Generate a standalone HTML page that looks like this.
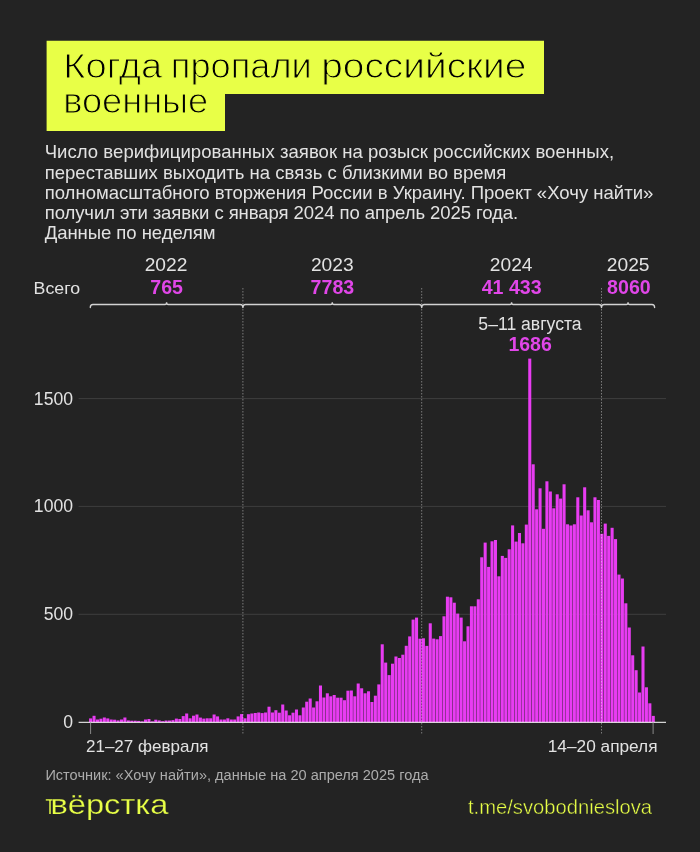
<!DOCTYPE html>
<html><head><meta charset="utf-8"><style>
html,body{margin:0;padding:0;background:#232323;}
body{width:700px;height:852px;overflow:hidden;position:relative;}
svg{position:absolute;left:0;top:0;display:block;will-change:transform;}
text{font-family:"Liberation Sans",Arial,sans-serif;}
</style></head><body>
<svg width="700" height="852" viewBox="0 0 700 852">
<rect x="0" y="0" width="700" height="852" fill="#232323"/>
<!-- title box -->
<path d="M46.6,40.8 H544 V94 H225 V131.1 H46.6 Z" fill="#e8ff47"/>
<g fill="#000" font-size="34.5" stroke="#e8ff47" stroke-width="1.0">
<text x="63.3" y="78" textLength="99" lengthAdjust="spacingAndGlyphs">Когда</text>
<text x="170.8" y="78" textLength="141" lengthAdjust="spacingAndGlyphs">пропали</text>
<text x="321.2" y="78" textLength="205.2" lengthAdjust="spacingAndGlyphs">российские</text>
<text x="63.2" y="113.4" textLength="145" lengthAdjust="spacingAndGlyphs">военные</text>
</g>
<!-- subtitle -->
<g fill="#e2e2e2" font-size="18.55">
<text x="44.7" y="158.2" textLength="569.4">Число верифицированных заявок на розыск российских военных,</text>
<text x="44.7" y="178.6">переставших выходить на связь с близкими во время</text>
<text x="44.7" y="199.0">полномасштабного вторжения России в Украину. Проект «Хочу найти»</text>
<text x="44.7" y="219.3" textLength="473.5">получил эти заявки с января 2024 по апрель 2025 года.</text>
<text x="44.7" y="239.4" textLength="170.8">Данные по неделям</text>
</g>
<!-- grid -->
<g stroke="#3e3e3e" stroke-width="1">
<line x1="78.6" x2="666" y1="398.6" y2="398.6"/>
<line x1="78.6" x2="666" y1="506.4" y2="506.4"/>
<line x1="78.6" x2="666" y1="614.3" y2="614.3"/>
</g>
<g fill="#e2e2e2" font-size="17.6" text-anchor="end">
<text x="73" y="404.6">1500</text>
<text x="73" y="512.4">1000</text>
<text x="73" y="620.3">500</text>
<text x="73" y="728.1">0</text>
</g>
<!-- bars -->
<g fill="#e83cf2">
<rect x="89.07" y="718.40" width="3.05" height="3.90"/>
<rect x="92.51" y="715.80" width="3.05" height="6.50"/>
<rect x="95.94" y="719.50" width="3.05" height="2.80"/>
<rect x="99.37" y="718.70" width="3.05" height="3.60"/>
<rect x="102.80" y="717.50" width="3.05" height="4.80"/>
<rect x="106.23" y="718.40" width="3.05" height="3.90"/>
<rect x="109.66" y="719.50" width="3.05" height="2.80"/>
<rect x="113.09" y="719.70" width="3.05" height="2.60"/>
<rect x="116.52" y="720.40" width="3.05" height="1.90"/>
<rect x="119.95" y="719.50" width="3.05" height="2.80"/>
<rect x="123.38" y="717.50" width="3.05" height="4.80"/>
<rect x="126.82" y="720.40" width="3.05" height="1.90"/>
<rect x="130.25" y="720.70" width="3.05" height="1.60"/>
<rect x="133.68" y="720.70" width="3.05" height="1.60"/>
<rect x="137.11" y="720.90" width="3.05" height="1.40"/>
<rect x="140.54" y="721.40" width="3.05" height="0.90"/>
<rect x="143.97" y="719.50" width="3.05" height="2.80"/>
<rect x="147.40" y="719.00" width="3.05" height="3.30"/>
<rect x="150.83" y="721.40" width="3.05" height="0.90"/>
<rect x="154.26" y="719.70" width="3.05" height="2.60"/>
<rect x="157.69" y="720.40" width="3.05" height="1.90"/>
<rect x="161.13" y="721.20" width="3.05" height="1.10"/>
<rect x="164.56" y="720.50" width="3.05" height="1.80"/>
<rect x="167.99" y="720.50" width="3.05" height="1.80"/>
<rect x="171.42" y="720.10" width="3.05" height="2.20"/>
<rect x="174.85" y="718.60" width="3.05" height="3.70"/>
<rect x="178.28" y="719.00" width="3.05" height="3.30"/>
<rect x="181.71" y="716.10" width="3.05" height="6.20"/>
<rect x="185.14" y="713.50" width="3.05" height="8.80"/>
<rect x="188.57" y="718.30" width="3.05" height="4.00"/>
<rect x="192.00" y="715.70" width="3.05" height="6.60"/>
<rect x="195.44" y="714.50" width="3.05" height="7.80"/>
<rect x="198.87" y="717.60" width="3.05" height="4.70"/>
<rect x="202.30" y="718.60" width="3.05" height="3.70"/>
<rect x="205.73" y="718.30" width="3.05" height="4.00"/>
<rect x="209.16" y="718.30" width="3.05" height="4.00"/>
<rect x="212.59" y="714.50" width="3.05" height="7.80"/>
<rect x="216.02" y="716.40" width="3.05" height="5.90"/>
<rect x="219.45" y="719.50" width="3.05" height="2.80"/>
<rect x="222.88" y="719.50" width="3.05" height="2.80"/>
<rect x="226.31" y="718.30" width="3.05" height="4.00"/>
<rect x="229.75" y="719.50" width="3.05" height="2.80"/>
<rect x="233.18" y="719.50" width="3.05" height="2.80"/>
<rect x="236.61" y="716.40" width="3.05" height="5.90"/>
<rect x="240.04" y="714.10" width="3.05" height="8.20"/>
<rect x="243.47" y="718.30" width="3.05" height="4.00"/>
<rect x="246.90" y="714.20" width="3.05" height="8.10"/>
<rect x="250.33" y="713.50" width="3.05" height="8.80"/>
<rect x="253.76" y="713.00" width="3.05" height="9.30"/>
<rect x="257.19" y="712.50" width="3.05" height="9.80"/>
<rect x="260.62" y="713.10" width="3.05" height="9.20"/>
<rect x="264.06" y="712.50" width="3.05" height="9.80"/>
<rect x="267.49" y="706.70" width="3.05" height="15.60"/>
<rect x="270.92" y="712.50" width="3.05" height="9.80"/>
<rect x="274.35" y="710.20" width="3.05" height="12.10"/>
<rect x="277.78" y="712.70" width="3.05" height="9.60"/>
<rect x="281.21" y="704.50" width="3.05" height="17.80"/>
<rect x="284.64" y="710.50" width="3.05" height="11.80"/>
<rect x="288.07" y="715.30" width="3.05" height="7.00"/>
<rect x="291.50" y="712.70" width="3.05" height="9.60"/>
<rect x="294.94" y="709.50" width="3.05" height="12.80"/>
<rect x="298.37" y="715.30" width="3.05" height="7.00"/>
<rect x="301.80" y="707.50" width="3.05" height="14.80"/>
<rect x="305.23" y="701.70" width="3.05" height="20.60"/>
<rect x="308.66" y="698.50" width="3.05" height="23.80"/>
<rect x="312.09" y="707.50" width="3.05" height="14.80"/>
<rect x="315.52" y="701.30" width="3.05" height="21.00"/>
<rect x="318.95" y="685.50" width="3.05" height="36.80"/>
<rect x="322.38" y="697.50" width="3.05" height="24.80"/>
<rect x="325.81" y="693.30" width="3.05" height="29.00"/>
<rect x="329.25" y="696.30" width="3.05" height="26.00"/>
<rect x="332.68" y="695.00" width="3.05" height="27.30"/>
<rect x="336.11" y="697.70" width="3.05" height="24.60"/>
<rect x="339.54" y="697.70" width="3.05" height="24.60"/>
<rect x="342.97" y="700.20" width="3.05" height="22.10"/>
<rect x="346.40" y="690.70" width="3.05" height="31.60"/>
<rect x="349.83" y="690.50" width="3.05" height="31.80"/>
<rect x="353.26" y="696.30" width="3.05" height="26.00"/>
<rect x="356.69" y="683.50" width="3.05" height="38.80"/>
<rect x="360.12" y="688.30" width="3.05" height="34.00"/>
<rect x="363.56" y="693.30" width="3.05" height="29.00"/>
<rect x="366.99" y="691.30" width="3.05" height="31.00"/>
<rect x="370.42" y="702.00" width="3.05" height="20.30"/>
<rect x="373.85" y="695.70" width="3.05" height="26.60"/>
<rect x="377.28" y="684.40" width="3.05" height="37.90"/>
<rect x="380.71" y="644.30" width="3.05" height="78.00"/>
<rect x="384.14" y="662.60" width="3.05" height="59.70"/>
<rect x="387.57" y="675.10" width="3.05" height="47.20"/>
<rect x="391.00" y="663.70" width="3.05" height="58.60"/>
<rect x="394.43" y="656.50" width="3.05" height="65.80"/>
<rect x="397.87" y="658.00" width="3.05" height="64.30"/>
<rect x="401.30" y="654.70" width="3.05" height="67.60"/>
<rect x="404.73" y="645.80" width="3.05" height="76.50"/>
<rect x="408.16" y="636.40" width="3.05" height="85.90"/>
<rect x="411.59" y="619.60" width="3.05" height="102.70"/>
<rect x="415.02" y="617.60" width="3.05" height="104.70"/>
<rect x="418.45" y="638.70" width="3.05" height="83.60"/>
<rect x="421.88" y="638.30" width="3.05" height="84.00"/>
<rect x="425.31" y="645.90" width="3.05" height="76.40"/>
<rect x="428.74" y="623.30" width="3.05" height="99.00"/>
<rect x="432.18" y="638.60" width="3.05" height="83.70"/>
<rect x="435.61" y="639.30" width="3.05" height="83.00"/>
<rect x="439.04" y="636.10" width="3.05" height="86.20"/>
<rect x="442.47" y="616.30" width="3.05" height="106.00"/>
<rect x="445.90" y="596.70" width="3.05" height="125.60"/>
<rect x="449.33" y="597.30" width="3.05" height="125.00"/>
<rect x="452.76" y="602.70" width="3.05" height="119.60"/>
<rect x="456.19" y="613.60" width="3.05" height="108.70"/>
<rect x="459.62" y="617.60" width="3.05" height="104.70"/>
<rect x="463.05" y="641.30" width="3.05" height="81.00"/>
<rect x="466.49" y="626.30" width="3.05" height="96.00"/>
<rect x="469.92" y="606.30" width="3.05" height="116.00"/>
<rect x="473.35" y="606.30" width="3.05" height="116.00"/>
<rect x="476.78" y="599.30" width="3.05" height="123.00"/>
<rect x="480.21" y="557.30" width="3.05" height="165.00"/>
<rect x="483.64" y="542.60" width="3.05" height="179.70"/>
<rect x="487.07" y="566.90" width="3.05" height="155.40"/>
<rect x="490.50" y="541.30" width="3.05" height="181.00"/>
<rect x="493.93" y="540.00" width="3.05" height="182.30"/>
<rect x="497.36" y="576.30" width="3.05" height="146.00"/>
<rect x="500.80" y="555.90" width="3.05" height="166.40"/>
<rect x="504.23" y="557.90" width="3.05" height="164.40"/>
<rect x="507.66" y="549.30" width="3.05" height="173.00"/>
<rect x="511.09" y="525.40" width="3.05" height="196.90"/>
<rect x="514.52" y="541.60" width="3.05" height="180.70"/>
<rect x="517.95" y="533.00" width="3.05" height="189.30"/>
<rect x="521.38" y="543.30" width="3.05" height="179.00"/>
<rect x="524.81" y="524.60" width="3.05" height="197.70"/>
<rect x="528.24" y="358.60" width="3.05" height="363.70"/>
<rect x="531.67" y="464.30" width="3.05" height="258.00"/>
<rect x="535.11" y="509.30" width="3.05" height="213.00"/>
<rect x="538.54" y="488.30" width="3.05" height="234.00"/>
<rect x="541.97" y="528.80" width="3.05" height="193.50"/>
<rect x="545.40" y="481.30" width="3.05" height="241.00"/>
<rect x="548.83" y="491.50" width="3.05" height="230.80"/>
<rect x="552.26" y="508.30" width="3.05" height="214.00"/>
<rect x="555.69" y="494.30" width="3.05" height="228.00"/>
<rect x="559.12" y="498.60" width="3.05" height="223.70"/>
<rect x="562.55" y="484.30" width="3.05" height="238.00"/>
<rect x="565.98" y="524.30" width="3.05" height="198.00"/>
<rect x="569.42" y="525.50" width="3.05" height="196.80"/>
<rect x="572.85" y="524.30" width="3.05" height="198.00"/>
<rect x="576.28" y="497.30" width="3.05" height="225.00"/>
<rect x="579.71" y="515.50" width="3.05" height="206.80"/>
<rect x="583.14" y="487.30" width="3.05" height="235.00"/>
<rect x="586.57" y="510.30" width="3.05" height="212.00"/>
<rect x="590.00" y="522.30" width="3.05" height="200.00"/>
<rect x="593.43" y="497.30" width="3.05" height="225.00"/>
<rect x="596.86" y="500.00" width="3.05" height="222.30"/>
<rect x="600.29" y="533.80" width="3.05" height="188.50"/>
<rect x="603.73" y="523.60" width="3.05" height="198.70"/>
<rect x="607.16" y="535.90" width="3.05" height="186.40"/>
<rect x="610.59" y="527.80" width="3.05" height="194.50"/>
<rect x="614.02" y="539.10" width="3.05" height="183.20"/>
<rect x="617.45" y="574.60" width="3.05" height="147.70"/>
<rect x="620.88" y="578.50" width="3.05" height="143.80"/>
<rect x="624.31" y="603.30" width="3.05" height="119.00"/>
<rect x="627.74" y="627.50" width="3.05" height="94.80"/>
<rect x="631.17" y="655.30" width="3.05" height="67.00"/>
<rect x="634.60" y="670.20" width="3.05" height="52.10"/>
<rect x="638.04" y="692.50" width="3.05" height="29.80"/>
<rect x="641.47" y="646.50" width="3.05" height="75.80"/>
<rect x="644.90" y="687.30" width="3.05" height="35.00"/>
<rect x="648.33" y="703.30" width="3.05" height="19.00"/>
<rect x="651.76" y="715.90" width="3.05" height="6.40"/>
</g>
<!-- dotted year dividers -->
<g stroke="#fff" stroke-opacity="0.4" stroke-width="1" stroke-dasharray="1.5 1.5">
<line x1="242.9" x2="242.9" y1="288" y2="734"/>
<line x1="421.7" x2="421.7" y1="288" y2="734"/>
<line x1="601.5" x2="601.5" y1="288" y2="734"/>
</g>
<!-- zero line & ticks -->
<line x1="78.6" x2="666" y1="722.4" y2="722.4" stroke="#fff" stroke-opacity="0.8" stroke-width="1.3"/>
<g stroke="#888" stroke-width="1">
<line x1="90.6" x2="90.6" y1="722.4" y2="734"/>
<line x1="653.1" x2="653.1" y1="722.4" y2="734"/>
</g>
<!-- braces -->
<path d="M90.30,307.50 Q90.30,304.50 92.90,304.50 L165.00,304.50 Q166.60,304.50 166.60,302.30 Q166.60,304.50 168.20,304.50 L240.30,304.50 Q242.90,304.50 242.90,307.50 M242.90,307.50 Q242.90,304.50 245.50,304.50 L330.70,304.50 Q332.30,304.50 332.30,302.30 Q332.30,304.50 333.90,304.50 L419.10,304.50 Q421.70,304.50 421.70,307.50 M421.70,307.50 Q421.70,304.50 424.30,304.50 L510.00,304.50 Q511.60,304.50 511.60,302.30 Q511.60,304.50 513.20,304.50 L598.90,304.50 Q601.50,304.50 601.50,307.50 M601.50,307.50 Q601.50,304.50 604.10,304.50 L626.45,304.50 Q628.05,304.50 628.05,302.30 Q628.05,304.50 629.65,304.50 L652.00,304.50 Q654.60,304.50 654.60,307.50" fill="none" stroke="#d2d2d2" stroke-width="1.35" stroke-linecap="round"/>
<!-- headers -->
<g fill="#e2e2e2" font-size="19.2" text-anchor="middle">
<text x="166" y="270.8">2022</text>
<text x="332.3" y="270.8">2023</text>
<text x="511.2" y="270.8">2024</text>
<text x="628.2" y="270.8">2025</text>
</g>
<text x="33.6" y="293.6" fill="#e2e2e2" font-size="16.9" textLength="46.6" lengthAdjust="spacingAndGlyphs">Всего</text>
<g fill="#e046e8" font-size="19.6" font-weight="bold" text-anchor="middle">
<text x="166.6" y="293.9">765</text>
<text x="332.4" y="293.9">7783</text>
<text x="511.7" y="293.9">41 433</text>
<text x="628.9" y="293.9">8060</text>
</g>
<!-- annotation -->
<text x="530" y="330" fill="#e2e2e2" font-size="17.6" text-anchor="middle">5–11 августа</text>
<text x="530.1" y="350.8" fill="#e046e8" font-size="19.5" font-weight="bold" text-anchor="middle">1686</text>
<!-- x labels -->
<g fill="#e2e2e2" font-size="17">
<text x="86" y="752">21–27 февраля</text>
<text x="657.5" y="751.5" text-anchor="end" font-size="17.25">14–20 апреля</text>
</g>
<text x="45.4" y="779.6" fill="#acacac" font-size="14.55">Источник: «Хочу найти», данные на 20 апреля 2025 года</text>
<!-- footer -->
<g fill="#e8ff47" stroke="#232323" stroke-width="0.25" font-size="28">
<text x="45.5" y="813.6" textLength="9" lengthAdjust="spacingAndGlyphs">т</text>
<text x="50.5" y="813.6" textLength="118" lengthAdjust="spacingAndGlyphs">вёрстка</text>
</g>
<text x="468" y="813.5" fill="#e8ff47" stroke="#232323" stroke-width="0.4" font-size="20.2">t.me/svobodnieslova</text>
</svg>
</body></html>
